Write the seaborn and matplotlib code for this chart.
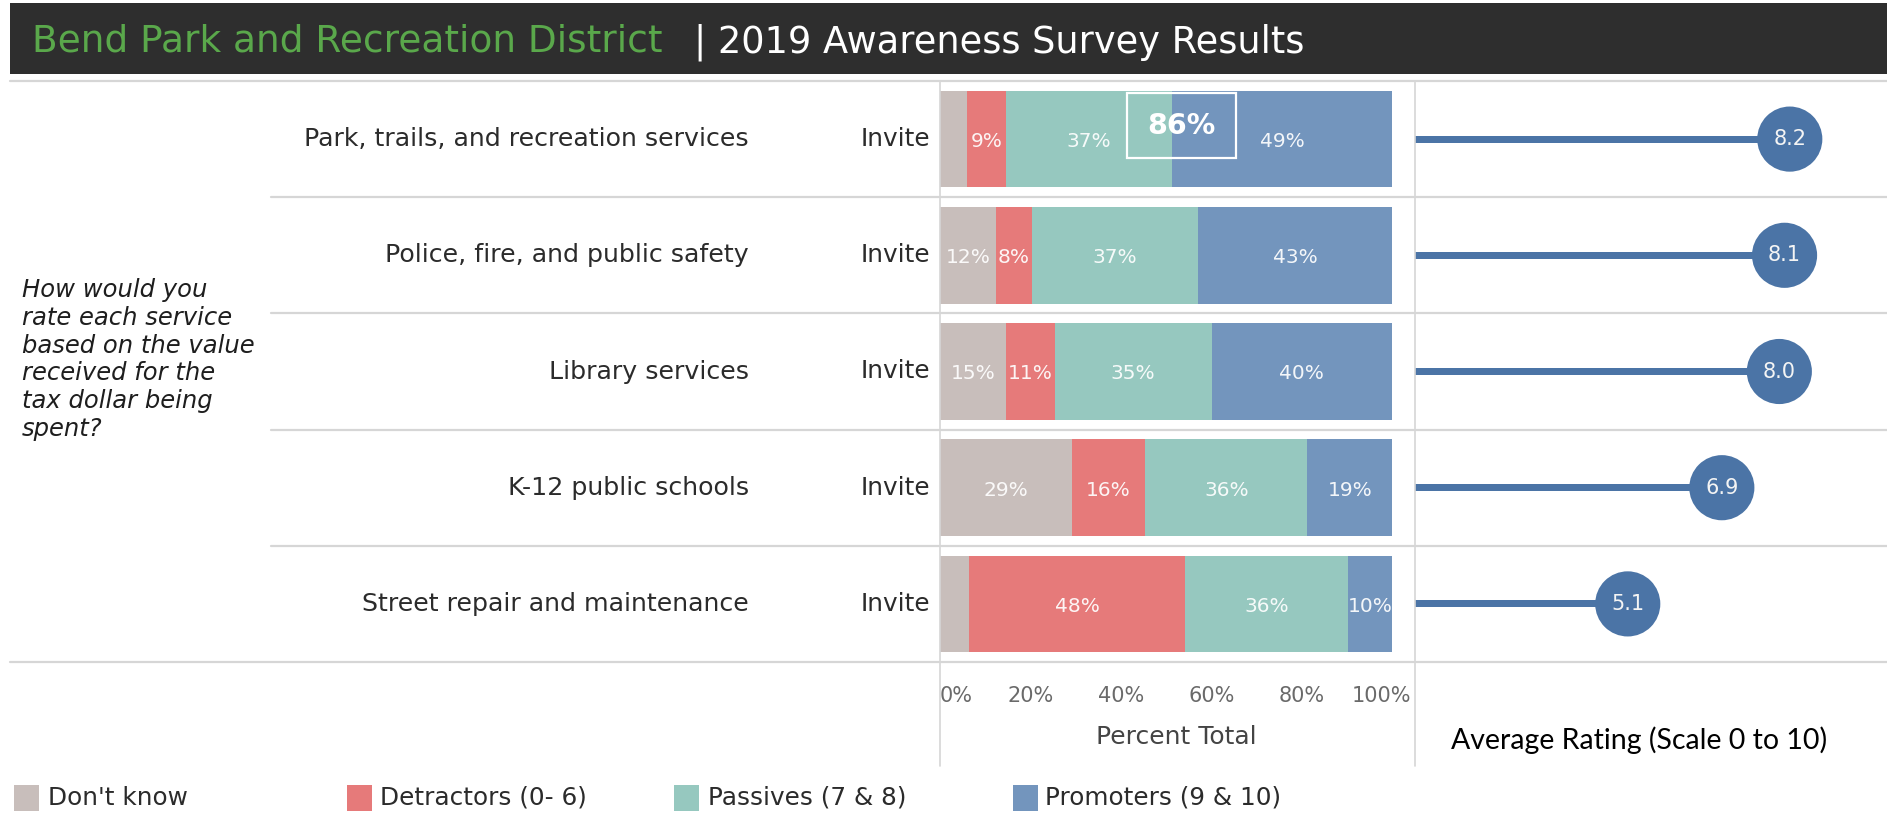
import numpy as np
import pandas as pd
import matplotlib
matplotlib.use("Agg")
import matplotlib.pyplot as plt
import seaborn as sns
from matplotlib.lines import Line2D
from matplotlib.patches import Rectangle
import matplotlib.transforms as mtransforms

# ---------------- data ----------------
services = ["Park, trails, and recreation services",
            "Police, fire, and public safety",
            "Library services",
            "K-12 public schools",
            "Street repair and maintenance"]
segment_names = ["Don't know", "Detractors (0- 6)", "Passives (7 & 8)", "Promoters (9 & 10)"]
dont_know = [6.0, 12.3, 14.6, 29.2, 6.4]
detractors = [8.6, 8.1, 10.8, 16.2, 47.9]
passives = [36.7, 36.7, 34.7, 35.9, 35.9]
promoters = [48.7, 42.9, 39.9, 18.7, 9.8]
avg_rating = [8.2, 8.1, 8.0, 6.9, 5.1]
group_label = "Invite"
highlight_label = "86%"
x_ticks = [0, 20, 40, 60, 80, 100]
x_tick_labels = ["0%", "20%", "40%", "60%", "80%", "100%"]
question_lines = ["How would you", "rate each service", "based on the value",
                  "received for the", "tax dollar being", "spent?"]
title_left = "Bend Park and Recreation District"
title_right = "| 2019 Awareness Survey Results"

# ---------------- style ----------------
seg_colors = ["#c8bebb", "#e67a7a", "#96c8bf", "#7395bd"]
dot_color = "#4b74a6"
grid_color = "#d6d6d6"
text_dark = "#2b2b2b"

W, H = 1887, 817
sns.set_theme(style="white")
plt.rcParams['font.family'] = ['DejaVu Sans']

fig = plt.figure(figsize=(W / 100, H / 100), dpi=100)
fig.patch.set_facecolor("white")


def fx(px):
    return px / W


def fy(py):
    return 1 - py / H


top, bot = 81, 662
row_h = (bot - top) / len(services)

# ---------------- header ----------------
fig.add_artist(Rectangle((fx(10), fy(74)), fx(1887) - fx(10), fy(3) - fy(74),
                         transform=fig.transFigure, facecolor="#2e2e2e", edgecolor="none"))
fig.text(fx(32), fy(42), title_left, color="#5aa84b", fontsize=27, va="center", ha="left")
fig.text(fx(694), fy(42), title_right, color="white", fontsize=26.5, va="center", ha="left")

# ---------------- grid lines ----------------
def hline(y, x0, x1):
    fig.add_artist(Line2D([fx(x0), fx(x1)], [fy(y), fy(y)], transform=fig.transFigure,
                          color=grid_color, lw=1.6))


def vline(x, y0, y1):
    fig.add_artist(Line2D([fx(x), fx(x)], [fy(y0), fy(y1)], transform=fig.transFigure,
                          color=grid_color, lw=1.2))


hline(top, 10, 1887)
hline(bot, 10, 1887)
for k in range(1, len(services)):
    hline(top + k * row_h, 271, 1887)
vline(940, top, 766)
vline(1415, top, 766)

# ---------------- stacked bars ----------------
ax = fig.add_axes([fx(940), fy(bot), fx(1392) - fx(940), fy(top) - fy(bot)])
segs = np.array([dont_know, detractors, passives, promoters])
cum = np.cumsum(segs, axis=0)
for k in range(len(segment_names) - 1, -1, -1):
    sns.barplot(x=cum[k], y=services, orient="h", color=seg_colors[k], saturation=1,
                width=0.83, ax=ax, edgecolor="none", linewidth=0)
ax.set_xlim(0, 100)
ax.set_ylim(len(services) - 0.5, -0.5)
for s in ax.spines.values():
    s.set_visible(False)
ax.set_facecolor("none")
ax.set_ylabel("")
ax.set_xlabel("")
ax.set_yticks([])
ax.set_xticks(x_ticks)
ax.set_xticklabels(x_tick_labels, fontsize=15, color="#6a6a6a")
ax.tick_params(axis="x", length=0, pad=17)
tl = ax.get_xticklabels()
tl[0].set_horizontalalignment("left")
tl[-1].set_transform(tl[-1].get_transform() + mtransforms.ScaledTranslation(-11 / 100, 0, fig.dpi_scale_trans))

for k in range(len(segment_names)):
    for i in range(len(services)):
        v = segs[k, i]
        if v >= 7:
            ax.text(cum[k, i] - v / 2, i + 0.02, f"{round(v)}%", ha="center", va="center",
                    fontsize=14.5, color="white", alpha=0.92)

# highlight box (Passives + Promoters of first row)
px0 = 1127
px1 = 1236
bx0 = (px0 - 940) / 452 * 100
bx1 = (px1 - 940) / 452 * 100
by0 = (93 - (top + row_h / 2)) / row_h
by1 = (158 - (top + row_h / 2)) / row_h
ax.add_patch(Rectangle((bx0, by0), bx1 - bx0, by1 - by0, facecolor="none",
                       edgecolor="white", lw=1.6, zorder=5))
ax.text((bx0 + bx1) / 2, (by0 + by1) / 2, highlight_label,
        ha="center", va="center", fontsize=20.5, fontweight="bold", color="white", zorder=6)

# row labels
trans = mtransforms.blended_transform_factory(fig.transFigure, ax.transData)
for i, name in enumerate(services):
    ax.text(fx(749), i, name, transform=trans, ha="right", va="center",
            fontsize=18.2, color=text_dark)
    ax.text(fx(930), i, group_label, transform=trans, ha="right", va="center",
            fontsize=17.8, color=text_dark)

fig.text(fx(1176), fy(737), "Percent Total", ha="center", va="center",
         fontsize=18, color="#444444")

# ---------------- lollipops ----------------
ax2 = fig.add_axes([fx(1415), fy(bot), fx(1887) - fx(1415), fy(top) - fy(bot)])
sns.barplot(x=avg_rating, y=services, orient="h", color=dot_color, saturation=1,
            width=0.06, ax=ax2, edgecolor="none", linewidth=0)
sns.scatterplot(x=avg_rating, y=np.arange(len(services)), s=2200, color=dot_color,
                edgecolor="none", ax=ax2, legend=False, zorder=3)
ax2.set_xlim(1.03, 10.06)
ax2.set_ylim(len(services) - 0.5, -0.5)
for s in ax2.spines.values():
    s.set_visible(False)
ax2.set_facecolor("none")
ax2.set_xticks([])
ax2.set_yticks([])
ax2.set_xlabel("")
ax2.set_ylabel("")
for i, r in enumerate(avg_rating):
    ax2.text(r, i, f"{r:.1f}", ha="center", va="center", fontsize=15, color="#f4f4f4", zorder=4)

fig.text(fx(1639), fy(740), "Average Rating (Scale 0 to 10)", ha="center", va="center",
         fontsize=20.5, color="black", family="Lato")

# ---------------- question ----------------
for j, line in enumerate(question_lines):
    fig.text(fx(22), fy(290 + j * 27.8), line, ha="left", va="center", fontsize=17.5,
             style="italic", color="#1e1e1e")

# ---------------- legend ----------------
leg_sq_x = [14, 347, 674, 1013]
leg_tx_x = [48, 380, 708, 1045]
for k, name in enumerate(segment_names):
    fig.add_artist(Rectangle((fx(leg_sq_x[k]), fy(811)), fx(25), 26 / H, transform=fig.transFigure,
                             facecolor=seg_colors[k], edgecolor="none"))
    fig.text(fx(leg_tx_x[k]), fy(798), name, ha="left", va="center", fontsize=17.8,
             color=text_dark)

fig.savefig("out.png", dpi=100)
